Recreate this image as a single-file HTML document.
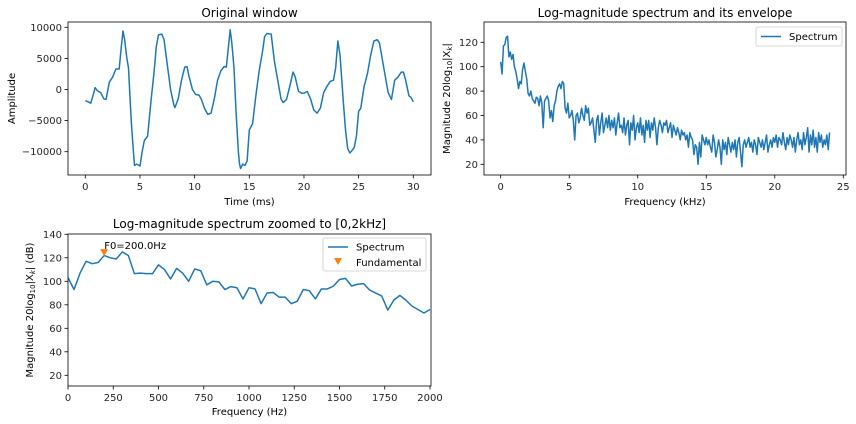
<!DOCTYPE html>
<html><head><meta charset="utf-8"><style>
body{margin:0;background:#fff;}
svg{display:block;font-family:"DejaVu Sans","Liberation Sans",sans-serif;}
</style></head><body>
<svg id="fig" width="856" height="424" viewBox="0 0 856 424"></svg>
<script>
const timeMs=[0,0.3,0.5,0.7,0.9,1.1,1.4,1.7,1.9,2.2,2.5,2.8,3.1,3.3,3.45,3.6,3.8,3.95,4.2,4.4,4.5,4.7,4.9,5.0,5.2,5.4,5.7,6.0,6.3,6.5,6.7,7.0,7.2,7.5,7.8,8.1,8.2,8.5,8.8,9.1,9.3,9.5,9.8,10.1,10.4,10.6,10.9,11.2,11.5,11.8,12.1,12.4,12.7,12.9,13.1,13.25,13.4,13.6,13.8,14.0,14.1,14.2,14.4,14.6,14.8,15.0,15.3,15.6,15.9,16.2,16.4,16.6,17.0,17.3,17.6,17.9,18.1,18.4,18.7,19.0,19.2,19.5,19.8,20.0,20.3,20.6,20.9,21.2,21.5,21.8,22.1,22.4,22.7,22.9,23.1,23.3,23.6,23.8,24.0,24.2,24.4,24.6,24.8,25.0,25.2,25.5,25.8,26.1,26.4,26.7,26.9,27.1,27.4,27.7,28.0,28.3,28.6,28.9,29.1,29.3,29.6,29.8,30.0];
const amplitude=[-1800,-2000,-2200,-1000,300,-200,-500,-1500,-1600,1200,2000,3300,3300,7000,9400,8000,5000,3500,-5000,-10000,-12200,-12000,-12200,-12300,-10000,-8200,-7500,-2000,3000,7000,8800,8900,8000,4000,0,-2500,-2900,-1500,1500,3600,3700,2000,0,-800,-900,-1500,-3000,-4000,-3800,-1500,1500,3000,3700,3600,7000,9600,7500,3500,-4000,-10000,-11900,-12700,-12000,-12200,-11500,-6500,-5500,-1000,3000,6000,8500,9000,8900,4500,1500,-1500,-2100,-1600,500,2800,2000,-300,-600,-600,-300,-1500,-3300,-3800,-3000,-500,500,1300,1500,3500,7800,5500,-2000,-6500,-9500,-10200,-9800,-9300,-7500,-3500,-3000,500,2500,5500,7800,8000,7500,5500,2500,-500,-1600,1500,2000,2800,2800,1500,-1000,-1300,-2000];
const fullStepKHz=0.1;
const fullSpectrum=[
104,94,117,118,124,125,108,112,106,110,
100,96,90,82,88,86,98,103,96,90,
78,76,80,74,72,70,75,74,68,76,
70,50,72,74,76,72,58,64,55,68,
72,80,84,86,82,88,86,66,62,70,
58,60,64,56,40,60,62,54,58,66,
60,56,68,62,66,52,54,58,48,38,
56,60,44,54,62,46,52,58,50,60,
48,56,50,58,44,54,62,50,52,46,
58,44,52,56,36,54,48,60,40,50,
54,46,58,44,52,38,56,48,56,42,
54,48,58,50,36,50,56,52,46,54,
52,56,46,50,54,42,52,48,44,50,
46,40,48,44,46,40,44,34,46,42,
40,28,36,34,20,38,26,44,40,36,
42,36,40,34,30,44,38,26,32,40,
34,20,40,32,38,28,42,36,30,38,
32,40,26,38,42,30,18,36,40,34,
38,42,34,38,30,40,36,28,42,38,
34,40,32,38,44,30,36,40,34,42,
38,44,34,42,40,36,46,38,32,42,
36,44,40,34,42,30,40,46,36,40,
32,46,36,42,50,30,44,36,48,34,
42,30,46,38,44,34,40,36,44,32,
46];
const zoomStepHz=2000/60;
const zoomSpectrum=[103,93,107,117,115,116,122,120,119,125,122,106.5,107,106.5,106.5,114,110,102,111,107,100,110.5,109,97,100,99.5,93,95.5,94.5,85,94.5,93.5,81,90,90.5,86.5,86.5,81,83,93,92,85,93.5,93.5,96,101.5,102.5,96,97.5,98,92.5,90,87.5,75.5,84,88,84,79,76,73,76];
const f0Hz=[200];
const f0Db=[124];
const xTicks1=[0,5,10,15,20,25,30];
const yTicks1=[-10000,-5000,0,5000,10000];
const xTicks2=[0,5,10,15,20,25];
const yTicks2=[20,40,60,80,100,120];
const xTicks3=[0,250,500,750,1000,1250,1500,1750,2000];
const yTicks3=[20,40,60,80,100,120,140];

const NS="http://www.w3.org/2000/svg";
const svg=document.getElementById('fig');
function mk(tag,attrs,parent,text){const e=document.createElementNS(NS,tag);for(const k in attrs)e.setAttribute(k,attrs[k]);if(text!==undefined)e.textContent=text;(parent||svg).appendChild(e);return e;}
function lin(d0,d1,r0,r1){return v=>r0+(v-d0)*(r1-r0)/(d1-d0);}

function axes(name,L,R,T,B,sx,sy,xt,yt,xfmt,yfmt){
  const g=mk('g',{});
  
  
  xt.forEach(v=>{const x=sx(v);
    const t=mk('line',{x1:x,x2:x,y1:B,y2:B+3.5,stroke:'#000','stroke-width':0.8},g);
    
    const l=mk('text',{x:x,y:B+15,'font-size':10,'text-anchor':'middle',fill:'#262626'},g,xfmt(v));
    });
  yt.forEach(v=>{const y=sy(v);
    const t=mk('line',{x1:L-3.5,x2:L,y1:y,y2:y,stroke:'#000','stroke-width':0.8},g);
    
    const l=mk('text',{x:L-6,y:y+3.5,'font-size':10,'text-anchor':'end',fill:'#262626'},g,yfmt(v));
    });
  return g;
}
function frame(g,L,R,T,B){const r=mk('rect',{x:L,y:T,width:R-L,height:B-T,fill:'none',stroke:'#000','stroke-width':0.8},g);
  }
function path(g,xs,ys,sx,sy,name,clip){let d='';xs.forEach((x,i)=>{d+=(i?'L':'M')+sx(x).toFixed(2)+','+sy(ys[i]).toFixed(2);});
  const p=mk('path',{d:d,fill:'none',stroke:'#1f77b4','stroke-width':1.5,'stroke-linejoin':'round'},g);
  if(clip)p.setAttribute('clip-path',clip);
  return p;}
const minus=s=>String(s).replace('-','\u2212');

// Plot 1
{const L=68,R=431,T=22,B=175;
 const sx=lin(0,30,85.3,413.3), sy=lin(-10000,10000,151.7,27.3);
 const g=axes('original-window-axes',L,R,T,B,sx,sy,xTicks1,yTicks1,v=>v,v=>minus(v));
 path(g,timeMs,amplitude,sx,sy,'waveform-line');
 frame(g,L,R,T,B);
 const t=mk('text',{x:(L+R)/2,y:17,'font-size':12,'text-anchor':'middle'},g,'Original window');
 const xl=mk('text',{x:(L+R)/2,y:205,'font-size':10,'text-anchor':'middle'},g,'Time (ms)');
 const yl=mk('text',{x:0,y:0,'font-size':10,'text-anchor':'middle',transform:'translate(15,'+((T+B)/2)+') rotate(-90)'},g,'Amplitude');
}
// Plot 2
{const L=484,R=846,T=22,B=175;
 const sx=lin(0,25,500.7,843.3), sy=lin(20,120,164.3,42.3);
 const g=axes('full-spectrum-axes',L,R,T,B,sx,sy,xTicks2,yTicks2,v=>v,v=>v);
 const xs=fullSpectrum.map((_,i)=>i*fullStepKHz);
 path(g,xs,fullSpectrum,sx,sy,'spectrum-line');
 frame(g,L,R,T,B);
 const t=mk('text',{x:(L+R)/2,y:17,'font-size':12,'text-anchor':'middle'},g,'Log-magnitude spectrum and its envelope');
 const xl=mk('text',{x:(L+R)/2,y:205,'font-size':10,'text-anchor':'middle'},g,'Frequency (kHz)');
 const yl=mk('text',{x:0,y:0,'font-size':10,'text-anchor':'middle',transform:'translate(450,'+((T+B)/2)+') rotate(-90)'},g);
 
 mk('tspan',{},yl,'Magnitude 20log');mk('tspan',{'font-size':7,dy:2},yl,'10');mk('tspan',{dy:-2},yl,'|X');mk('tspan',{'font-size':7,dy:2,'font-style':'italic'},yl,'k');mk('tspan',{dy:-2},yl,'|');
 const lg=mk('g',{},g);
 mk('rect',{x:756,y:27,width:86,height:19,fill:'#fff',stroke:'#ccc','stroke-width':0.8,rx:2},lg);
 mk('line',{x1:761,x2:781,y1:36.5,y2:36.5,stroke:'#1f77b4','stroke-width':1.5},lg);
 mk('text',{x:789,y:40,'font-size':10},lg,'Spectrum');
}
// Plot 3
{const L=68,R=431,T=234,B=386;
 const sx=lin(0,2000,68,430), sy=lin(20,140,375.3,234.3);
 const g=axes('zoomed-spectrum-axes',L,R,T,B,sx,sy,xTicks3,yTicks3,v=>v,v=>v);
 const cp=mk('clipPath',{id:'c3'},mk('defs',{},g));
 mk('rect',{x:L,y:T,width:R-L,height:B-T},cp);
 const xs=zoomSpectrum.map((_,i)=>i*zoomStepHz);
 path(g,xs,zoomSpectrum,sx,sy,'spectrum-line','url(#c3)');
 f0Hz.forEach((f,i)=>{const x=sx(f),y=sy(f0Db[i]);
   const m=mk('path',{d:`M${x-4},${y-4}L${x+4},${y-4}L${x},${y+3}Z`,fill:'#ff7f0e'},g);
   
   const a=mk('text',{x:x,y:y-4,'font-size':10},g,'F0='+f.toFixed(1)+'Hz');
   });
 frame(g,L,R,T,B);
 const t=mk('text',{x:(L+R)/2,y:228,'font-size':12,'text-anchor':'middle'},g,'Log-magnitude spectrum zoomed to [0,2kHz]');
 const xl=mk('text',{x:(L+R)/2,y:415,'font-size':10,'text-anchor':'middle'},g,'Frequency (Hz)');
 const yl=mk('text',{x:0,y:0,'font-size':10,'text-anchor':'middle',transform:'translate(33,'+((T+B)/2)+') rotate(-90)'},g);
 
 mk('tspan',{},yl,'Magnitude 20log');mk('tspan',{'font-size':7,dy:2},yl,'10');mk('tspan',{dy:-2},yl,'|X');mk('tspan',{'font-size':7,dy:2,'font-style':'italic'},yl,'k');mk('tspan',{dy:-2},yl,'| (dB)');
 const lg=mk('g',{},g);
 mk('rect',{x:323,y:238,width:103,height:33,fill:'#fff',stroke:'#ccc','stroke-width':0.8,rx:2},lg);
 mk('line',{x1:328,x2:348,y1:247,y2:247,stroke:'#1f77b4','stroke-width':1.5},lg);
 mk('text',{x:356,y:250.5,'font-size':10},lg,'Spectrum');
 mk('path',{d:'M334,258L342,258L338,265Z',fill:'#ff7f0e'},lg);
 mk('text',{x:356,y:266,'font-size':10},lg,'Fundamental');
}
</script>
</body></html>
